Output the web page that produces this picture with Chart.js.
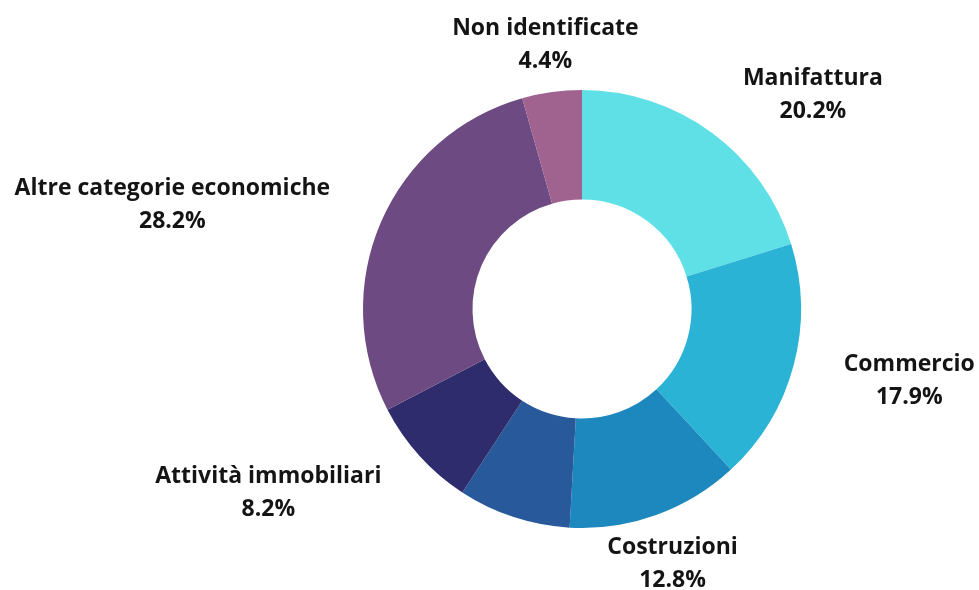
<!DOCTYPE html>
<html>
<head>
<meta charset="utf-8">
<script src="https://cdn.jsdelivr.net/npm/chart.js@4"></script>
<style>
  body { margin: 0; background: #fff; }
  #wrap { width: 979px; height: 590px; position: relative; }
</style>
</head>
<body>
<div id="wrap"><canvas id="myChart"></canvas></div>
<script>
const ctx = document.getElementById("myChart");

//. (one slice has no label in the original)
const categories = [
  "Manifattura",
  "Commercio",
  "Costruzioni",
  "",
  "Attività immobiliari",
  "Altre categorie economiche",
  "Non identificate",
];
const shares = [20.2, 17.9, 12.8, 8.3, 8.2, 28.2, 4.4];
const sliceColors = ["#5ee0e6", "#2bb3d6", "#1c88bd", "#28599a", "#2e2c6c", "#6d4a81", "#a0638f"];

//. Small nudges for the outside labels, same order as categories
const labelNudge = [[51, 30], [28, -8], [-7, -16], [0, 0], [-60, -45], [-47, 53], [2, 13]];

const FONT = "bold 23px 'Open Sans'";
const LINE = 33;

//. Draws name + percent outside each slice
const outsideLabels = {
  id: "outsideLabels",
  afterDraw(chart) {
    const c = chart.ctx;
    const meta = chart.getDatasetMeta(0);
    c.save();
    c.font = FONT;
    c.fillStyle = "#141414";
    c.textAlign = "center";
    c.textBaseline = "middle";
    meta.data.forEach((arc, i) => {
      const name = chart.data.labels[i];
      if (!name) return;
      const pct = chart.data.datasets[0].data[i].toFixed(1) + "%";
      const mid = (arc.startAngle + arc.endAngle) / 2;
      const ux = Math.cos(mid), uy = Math.sin(mid);
      const w = Math.max(c.measureText(name).width, c.measureText(pct).width);
      const h = LINE + 24;
      const ext = (w / 2) * Math.abs(ux) + (h / 2) * Math.abs(uy);
      const d = arc.outerRadius + 20 + ext;
      const nudge = labelNudge[i] || [0, 0];
      const x = arc.x + ux * d + nudge[0];
      const y = arc.y + uy * d + nudge[1];
      c.fillText(name, x, y - LINE / 2);
      c.fillText(pct, x, y + LINE / 2);
    });
    c.restore();
  },
};

let myChart = new Chart(ctx, {
  type: "doughnut",
  data: {
    labels: categories,
    datasets: [
      {
        data: shares,
        backgroundColor: sliceColors,
        borderWidth: 0,
      },
    ],
  },
  options: {
    responsive: true,
    maintainAspectRatio: false,
    animation: false,
    cutout: "50%",
    layout: {
      // puts the ring where it sits in the picture
      padding: { left: 363, right: 178, top: 90, bottom: 62 },
    },
    plugins: {
      legend: { display: false },
      tooltip: { enabled: false },
    },
  },
  plugins: [outsideLabels],
});
</script>
</body>
</html>
